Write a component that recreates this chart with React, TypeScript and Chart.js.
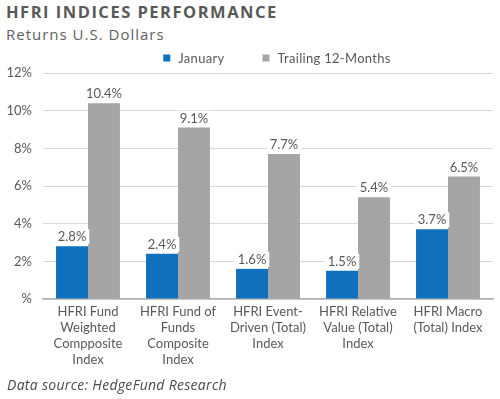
import React, { useEffect, useRef } from "react";
import { Chart, registerables } from "chart.js";

Chart.register(...registerables);

const categories: string[][] = [
  ["HFRI Fund", "Weighted", "Compposite", "Index"],
  ["HFRI Fund of", "Funds", "Composite", "Index"],
  ["HFRI Event-", "Driven (Total)", "Index"],
  ["HFRI Relative", "Value (Total)", "Index"],
  ["HFRI Macro", "(Total) Index"],
];
const january = [2.8, 2.4, 1.6, 1.5, 3.7];
const trailing12 = [10.4, 9.1, 7.7, 5.4, 6.5];
const seriesNames = ["January", "Trailing 12-Months"];
const FONT = "Lato, 'Open Sans', sans-serif";
const TEXT = "#595959";

const labelPlugin = {
  id: "barLabels",
  afterDatasetsDraw(chart: any) {
    const ctx = chart.ctx;
    ctx.save();
    ctx.font = `13px ${FONT}`;
    ctx.textAlign = "center";
    ctx.textBaseline = "alphabetic";
    chart.data.datasets.forEach((ds: any, di: number) => {
      const meta = chart.getDatasetMeta(di);
      meta.data.forEach((bar: any, i: number) => {
        const txt = ds.data[i].toFixed(1) + "%";
        const w = ctx.measureText(txt).width;
        const y = bar.y - 5;
        ctx.fillStyle = "#ffffff";
        ctx.fillRect(bar.x - w / 2 - 3, y - 12, w + 6, 15);
        ctx.fillStyle = TEXT;
        ctx.fillText(txt, bar.x, y);
      });
    });
    ctx.restore();
  },
};

const legendPlugin = {
  id: "customLegend",
  afterDraw(chart: any) {
    const ctx = chart.ctx;
    const area = chart.chartArea;
    ctx.save();
    ctx.font = `13px ${FONT}`;
    ctx.letterSpacing = "0.3px";
    const box = 7;
    const gapText = 8;
    const gapItem = 38;
    const items = chart.data.datasets.map((ds: any) => ({
      label: ds.label,
      color: ds.backgroundColor,
      w: ctx.measureText(ds.label).width,
    }));
    const total =
      items.reduce((s: number, it: any) => s + box + gapText + it.w, 0) + gapItem * (items.length - 1);
    let x = (area.left + area.right) / 2 + 9 - total / 2;
    const yMid = 13;
    items.forEach((it: any) => {
      ctx.fillStyle = it.color;
      ctx.fillRect(x, yMid - box / 2, box, box);
      x += box + gapText;
      ctx.fillStyle = TEXT;
      ctx.textAlign = "left";
      ctx.textBaseline = "middle";
      ctx.fillText(it.label, x, yMid + 0.5);
      x += it.w + gapItem;
    });
    ctx.restore();
  },
};

export default function App() {
  const ref = useRef<HTMLCanvasElement>(null);
  useEffect(() => {
    const chart = new Chart(ref.current!, {
      type: "bar",
      data: {
        labels: categories,
        datasets: [
          { label: seriesNames[0], data: january, backgroundColor: "#0f70be" },
          { label: seriesNames[1], data: trailing12, backgroundColor: "#a5a5a5" },
        ],
      },
      options: {
        animation: false,
        responsive: false,
        maintainAspectRatio: false,
        layout: { padding: { left: 0, right: 7, top: 28, bottom: 0 } },
        datasets: { bar: { categoryPercentage: 0.71, barPercentage: 1 } },
        plugins: {
          legend: { display: false },
          tooltip: { enabled: false },
        },
        scales: {
          x: {
            grid: { display: false, drawTicks: false },
            border: { display: true, color: "#b0b0b0", width: 1.5 },
            ticks: {
              color: TEXT,
              font: { family: FONT, size: 13, lineHeight: "16px" },
              padding: 5,
              maxRotation: 0,
              autoSkip: false,
            },
            afterFit(scale: any) {
              scale.height = 78;
            },
          },
          y: {
            min: 0,
            max: 12,
            grid: { color: "#d9d9d9", drawTicks: false },
            border: { display: false },
            ticks: {
              stepSize: 2,
              color: TEXT,
              padding: 11,
              font: { family: FONT, size: 13 },
              callback: (v: any) => (v === 0 ? "%" : v + "%"),
            },
            afterFit(scale: any) {
              scale.width = 43;
            },
          },
        },
      },
      plugins: [labelPlugin, legendPlugin],
    });
    return () => chart.destroy();
  }, []);

  return (
    <div style={{ position: "fixed", left: 0, top: 0, width: 500, height: 399, background: "#fff", overflow: "hidden" }}>
      <div
        style={{
          position: "absolute",
          left: 6,
          top: 1,
          font: "bold 16.5px 'Open Sans', sans-serif",
          lineHeight: "22px",
          letterSpacing: "1.5px",
          color: "#595959",
          whiteSpace: "nowrap",
        }}
      >
        HFRI INDICES PERFORMANCE
      </div>
      <div
        style={{
          position: "absolute",
          left: 6,
          top: 24,
          font: "15px 'Open Sans', sans-serif",
          lineHeight: "20px",
          letterSpacing: "1px",
          color: "#5f5f5f",
          whiteSpace: "nowrap",
        }}
      >
        Returns U.S. Dollars
      </div>
      <canvas ref={ref} width={500} height={332} style={{ position: "absolute", left: 0, top: 45, width: 500, height: 332 }} />
      <div
        style={{
          position: "absolute",
          left: 7,
          top: 375,
          font: "italic 14px 'Open Sans', sans-serif",
          lineHeight: "19px",
          letterSpacing: "0.3px",
          color: "#4a4a4a",
          whiteSpace: "nowrap",
        }}
      >
        Data source: HedgeFund Research
      </div>
    </div>
  );
}
